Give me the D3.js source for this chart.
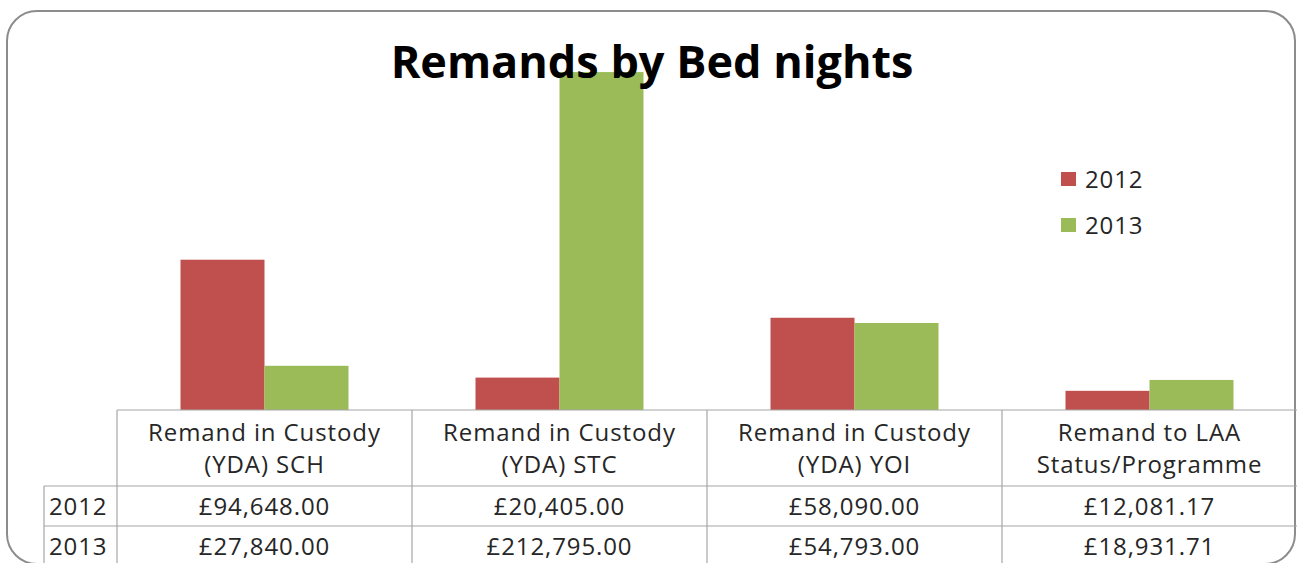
<!DOCTYPE html>
<html>
<head>
<meta charset="utf-8">
<script src="https://cdnjs.cloudflare.com/ajax/libs/d3/7.8.5/d3.min.js"></script>
<style>
  body { margin: 0; background: #fff; }
  text { font-family: "Open Sans", sans-serif; fill: #262626; }
  .tbl { font-size: 24px; letter-spacing: 0.9px; }
</style>
</head>
<body>
<svg id="chart" width="1297" height="563"></svg>
<script>
// data
var categories = [
  ['Remand in Custody', '(YDA) SCH'],
  ['Remand in Custody', '(YDA) STC'],
  ['Remand in Custody', '(YDA) YOI'],
  ['Remand to LAA', 'Status/Programme']
];
var years = ['2012', '2013'];
var values2012 = [94648.00, 20405.00, 58090.00, 12081.17];
var values2013 = [27840.00, 212795.00, 54793.00, 18931.71];
var colors = ['#c0504d', '#9bbb59'];

var svg = d3.select('#chart');

// frame
svg.append('rect')
  .attr('x', 7).attr('y', 11)
  .attr('width', 1288).attr('height', 553)
  .attr('rx', 30).attr('ry', 30)
  .attr('fill', '#fff')
  .attr('stroke', '#8c8c8c')
  .attr('stroke-width', 2);

// scales
var baseline = 410;
var x0 = d3.scaleBand()
  .domain(d3.range(categories.length))
  .range([117, 1297]);
var x1 = d3.scaleBand()
  .domain(years)
  .range([63.5, x0.bandwidth() - 63.5]);
var y = d3.scaleLinear()
  .domain([0, 250000])
  .range([baseline, 13]);

var series = [values2012, values2013];

// bars
var g = svg.append('g');
years.forEach(function(yr, si) {
  g.selectAll('.bar-' + yr)
    .data(series[si])
    .enter().append('rect')
    .attr('class', 'bar-' + yr)
    .attr('x', function(d, i) { return x0(i) + x1(yr); })
    .attr('y', function(d) { return y(d); })
    .attr('width', x1.bandwidth())
    .attr('height', function(d) { return baseline - y(d); })
    .attr('fill', colors[si]);
});

// title
svg.append('text')
  .attr('x', 652).attr('y', 78)
  .attr('text-anchor', 'middle')
  .style('font-size', '45px')
  .style('font-weight', 'bold')
  .style('fill', '#000')
  .text('Remands by Bed nights');

// legend
var legend = svg.append('g');
years.forEach(function(yr, i) {
  legend.append('rect')
    .attr('x', 1061).attr('y', 172 + i * 46)
    .attr('width', 15).attr('height', 14)
    .attr('fill', colors[i]);
  legend.append('text')
    .attr('class', 'tbl')
    .attr('x', 1085).attr('y', 188 + i * 46)
    .text(yr);
});

// data table
var lineCol = '#a6a6a6';
var rowTop = 486, rowH = 40, labelX = 44;
var table = svg.append('g')
  .attr('stroke', lineCol).attr('stroke-width', 1.2);

table.append('line').attr('x1', 117).attr('x2', 1297).attr('y1', baseline).attr('y2', baseline);
years.forEach(function(yr, i) {
  table.append('line').attr('x1', labelX).attr('x2', 1297)
    .attr('y1', rowTop + i * rowH).attr('y2', rowTop + i * rowH);
});
table.append('line').attr('x1', labelX).attr('x2', labelX).attr('y1', rowTop).attr('y2', 563);
d3.range(categories.length).forEach(function(i) {
  table.append('line').attr('x1', x0(i)).attr('x2', x0(i)).attr('y1', baseline).attr('y2', 563);
});

var fmt = function(v) { return '£' + d3.format(',.2f')(v); };

categories.forEach(function(c, i) {
  var cx = x0(i) + x0.bandwidth() / 2;
  c.forEach(function(line, li) {
    svg.append('text')
      .attr('class', 'tbl')
      .attr('x', cx).attr('y', 441 + li * 32)
      .attr('text-anchor', 'middle')
      .text(line);
  });
  series.forEach(function(s, si) {
    svg.append('text')
      .attr('class', 'tbl')
      .attr('x', cx).attr('y', rowTop + 29 + si * rowH)
      .attr('text-anchor', 'middle')
      .text(fmt(s[i]));
  });
});

years.forEach(function(yr, si) {
  svg.append('text')
    .attr('class', 'tbl')
    .attr('x', 49).attr('y', rowTop + 29 + si * rowH)
    .text(yr);
});
</script>
</body>
</html>
